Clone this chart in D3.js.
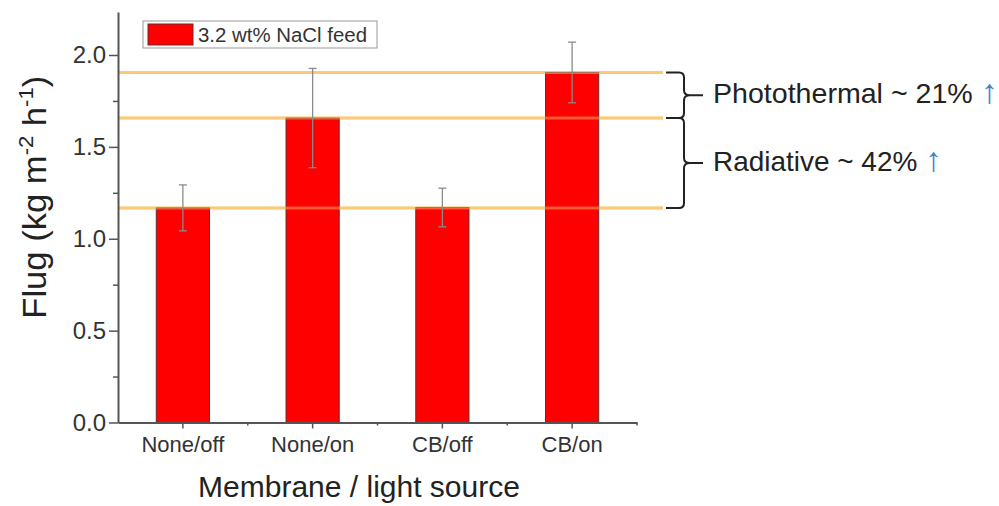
<!DOCTYPE html>
<html>
<head>
<meta charset="utf-8">
<script src="https://cdn.jsdelivr.net/npm/d3@7"></script>
<style>
  body { margin: 0; background: #fff; }
  text { font-family: Arial, "Liberation Sans", sans-serif; }
</style>
</head>
<body>
<svg id="chart" width="999" height="506"></svg>
<script>
const categories = ["None/off", "None/on", "CB/off", "CB/on"];
const fluxValues = [1.168, 1.657, 1.17, 1.905];
const fluxErrors = [0.125, 0.27, 0.105, 0.165];
const yTicks = [0.0, 0.5, 1.0, 1.5, 2.0];
const refLevels = [1.905, 1.657, 1.168];
const annotations = [
    { label: "Photothermal ~ 21% ", from: 1.905, to: 1.657 },
    { label: "Radiative ~ 42% ", from: 1.657, to: 1.168 }
];

const svg = d3.select("#chart");
const plotLeft = 118, plotRight = 637, plotTop = 12, plotBottom = 422.5;

const x = d3.scaleBand().domain(categories).range([plotLeft, plotRight]).paddingInner(0).paddingOuter(0);
const y = d3.scaleLinear().domain([0, 2.234]).range([plotBottom, plotTop]);

// reference lines (orange)
const refLine = g => g.selectAll("line")
    .data(refLevels)
    .join("line")
    .attr("x1", plotLeft).attr("x2", 663)
    .attr("y1", d => y(d)).attr("y2", d => y(d))
    .attr("stroke", "#fbc978")
    .attr("stroke-width", 3);
svg.append("g").call(refLine);

// bars
const barW = x.bandwidth() * 0.41;
svg.append("g")
    .selectAll("rect")
    .data(categories)
    .join("rect")
    .attr("x", d => x(d) + (x.bandwidth() - barW) / 2)
    .attr("width", barW)
    .attr("y", (d, i) => y(fluxValues[i]))
    .attr("height", (d, i) => y(0) - y(fluxValues[i]))
    .attr("fill", "#ff0000")
    .attr("stroke", "#6b2a2a")
    .attr("stroke-width", 1);

// orange lines show through bars a little
svg.append("g").call(refLine).attr("opacity", 0.45);

// error bars
const err = svg.append("g").attr("stroke", "#8a8a8a").attr("stroke-width", 1.3);
categories.forEach((c, i) => {
    const cx = x(c) + x.bandwidth() / 2;
    err.append("line").attr("x1", cx).attr("x2", cx)
        .attr("y1", y(fluxValues[i] + fluxErrors[i])).attr("y2", y(fluxValues[i] - fluxErrors[i]));
    [fluxValues[i] + fluxErrors[i], fluxValues[i] - fluxErrors[i]].forEach(v => {
        err.append("line").attr("x1", cx - 4).attr("x2", cx + 4)
            .attr("y1", y(v)).attr("y2", y(v));
    });
});

// y axis
const yAxis = svg.append("g")
    .attr("transform", `translate(${plotLeft},0)`)
    .call(d3.axisLeft(y).tickValues(yTicks).tickFormat(d3.format(".1f")).tickSize(9).tickSizeOuter(0).tickPadding(3));
svg.append("g")
    .attr("transform", `translate(${plotLeft},0)`)
    .call(d3.axisLeft(y).tickValues([0.25, 0.75, 1.25, 1.75]).tickFormat("").tickSize(5).tickSizeOuter(0))
    .call(g => g.select(".domain").remove())
    .selectAll("line").attr("stroke", "#555").attr("stroke-width", 1.5);
yAxis.select(".domain").attr("stroke", "#555").attr("stroke-width", 2);
yAxis.selectAll(".tick line").attr("stroke", "#555").attr("stroke-width", 1.5);
yAxis.selectAll(".tick text").attr("font-size", 24).attr("fill", "#333");

// x axis
const xAxis = svg.append("g")
    .attr("transform", `translate(0,${plotBottom})`)
    .call(d3.axisBottom(x).tickSize(6).tickSizeOuter(0).tickPadding(8));
xAxis.select(".domain").attr("stroke", "#555").attr("stroke-width", 2);
xAxis.selectAll(".tick line").attr("stroke", "#555").attr("stroke-width", 1.5);
xAxis.selectAll(".tick text").attr("font-size", 22).attr("fill", "#333");
// minor x ticks between categories and at the end
svg.append("g")
    .selectAll("line")
    .data(categories.slice(1).map(d => x(d)).concat([plotRight]))
    .join("line")
    .attr("x1", d => d).attr("x2", d => d)
    .attr("y1", plotBottom).attr("y2", plotBottom + 3)
    .attr("stroke", "#555").attr("stroke-width", 1.5);

// axis titles
svg.append("text")
    .attr("transform", `translate(46,${(plotTop + plotBottom) / 2 - 20}) rotate(-90)`)
    .attr("text-anchor", "middle")
    .attr("font-size", 33)
    .attr("fill", "#222")
    .attr("textLength", 243).attr("lengthAdjust", "spacingAndGlyphs")
    .html('Flug (kg m<tspan dy="-13" font-size="21">-2</tspan><tspan dy="13"> h</tspan><tspan dy="-13" font-size="21">-1</tspan><tspan dy="13">)</tspan>');

svg.append("text")
    .attr("x", 359).attr("y", 497)
    .attr("text-anchor", "middle")
    .attr("font-size", 30)
    .attr("fill", "#222")
    .text("Membrane / light source");

// legend
const lg = svg.append("g");
lg.append("rect").attr("x", 143).attr("y", 21).attr("width", 234).attr("height", 27)
    .attr("fill", "#fff").attr("stroke", "#999").attr("stroke-width", 1);
lg.append("rect").attr("x", 148).attr("y", 24).attr("width", 45).attr("height", 21)
    .attr("fill", "#ff0000").attr("stroke", "#6b2a2a");
lg.append("text").attr("x", 198).attr("y", 42).attr("font-size", 20).attr("fill", "#333")
    .attr("textLength", 169).attr("lengthAdjust", "spacingAndGlyphs")
    .text("3.2 wt% NaCl feed");

// curly brackets and annotations
const bx0 = 666, bx1 = 684, tip = 703;
annotations.forEach((a, k) => {
    const y0 = y(a.from), y1 = y(a.to), ym = (y0 + y1) / 2, r = 5;
    const p = `M${bx0},${y0} H${bx1 - r} Q${bx1},${y0} ${bx1},${y0 + r} V${ym - r} Q${bx1},${ym} ${bx1 + 6},${ym} H${tip}` +
        ` M${bx1 + 6},${ym} Q${bx1},${ym} ${bx1},${ym + r} V${y1 - r} Q${bx1},${y1} ${bx1 - r},${y1} H${bx0}`;
    svg.append("path").attr("d", p).attr("fill", "none").attr("stroke", "#222").attr("stroke-width", 2);
    const t = svg.append("text").attr("x", 713).attr("y", ym + 8)
        .attr("font-size", 28).attr("fill", "#222")
        .attr("textLength", k === 0 ? 285 : 229).attr("lengthAdjust", "spacingAndGlyphs")
        .text(a.label);
    t.append("tspan").attr("fill", "#3b82c4").attr("font-size", 34).text("↑");
});
</script>
</body>
</html>
